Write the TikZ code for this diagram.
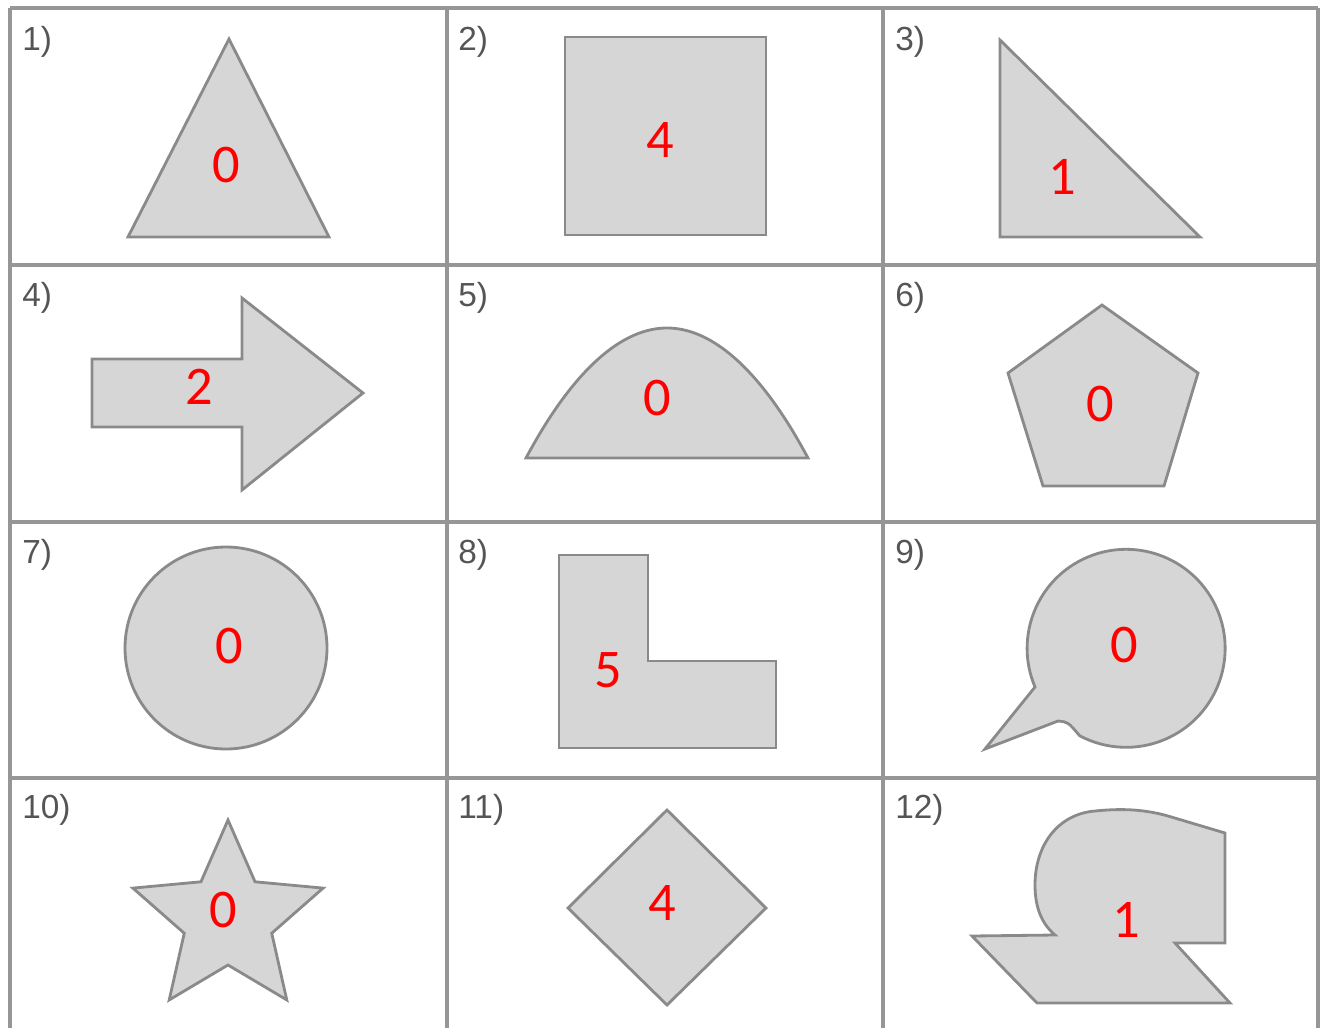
\documentclass[tikz,border=0pt]{standalone}
\usepackage{fontspec}
\setmainfont{Liberation Sans}
\newfontfamily\numfont{Carlito}
\begin{document}
\begin{tikzpicture}[x=0.02cm, y=-0.02cm,
    gridline/.style={draw={rgb,255:red,150;green,150;blue,150}, line width=1.8pt},
    shapefill/.style={draw={rgb,255:red,138;green,138;blue,138}, fill={rgb,255:red,214;green,214;blue,214}, line width=1.6pt, line join=miter},
    cellnum/.style={anchor=west, inner sep=0, text={rgb,255:red,85;green,85;blue,85}, font=\fontsize{19}{19}\selectfont},
    count/.style={inner sep=0, text={rgb,255:red,255;green,0;blue,0}, font=\numfont\fontsize{31}{31}\selectfont}]
    \useasboundingbox (0, 0) rectangle (1326, 1028);
    % Grid:
    \foreach \gx in {10, 447, 883, 1318} \draw[gridline] (\gx, 8) -- (\gx, 1028);
    \foreach \gy in {8, 265, 522, 778} \draw[gridline] (10, \gy) -- (1318, \gy);
    % Shapes:
    \draw[shapefill] (229, 39) -- (329, 237) -- (128, 237) -- cycle;
    \draw[shapefill] (565, 37) rectangle (766, 235);
    \draw[shapefill] (1000, 40) -- (1200, 237) -- (1000, 237) -- cycle;
    \draw[shapefill] (92, 359) -- (242, 359) -- (242, 298) -- (363, 393) -- (242, 490) -- (242, 427) -- (92, 427) -- cycle;
    \draw[shapefill] (526, 458) parabola bend (667, 328) (808, 458) -- cycle;
    \draw[shapefill] (1102, 305) -- (1198, 373) -- (1164, 486) -- (1043, 486) -- (1008, 373) -- cycle;
    \draw[shapefill] (226, 648) circle[radius=101];
    \draw[shapefill] (559, 555) -- (648, 555) -- (648, 661) -- (776, 661) -- (776, 748) -- (559, 748) -- cycle;
    \draw[shapefill] (1035, 687) arc[start angle=157, end angle=478, radius=99] .. controls (1068, 722) .. (1058, 721) -- (985, 749) -- cycle;
    \draw[shapefill] (228, 820) \foreach \k in {1,...,9} {
        -- ({228 + (46 + 54*mod(\k+1,2))*sin(36*\k)}, {919 - (46 + 54*mod(\k+1,2))*cos(36*\k)})} -- cycle;
    \draw[shapefill] (667, 810) -- (766, 908) -- (667, 1005) -- (568, 908) -- cycle;
    \draw[shapefill] (1225, 833) -- (1168, 816) .. controls (1140, 808) and (1115, 809) .. (1095, 811) .. controls (1058, 814) and (1035, 845) .. (1035, 885)
        .. controls (1035, 908) and (1042, 924) .. (1055, 935) -- (972, 936) -- (1037, 1003) -- (1230, 1003) -- (1175, 943) -- (1225, 943) -- cycle;
    % Cell numbers:
    \node[cellnum](Cell1) at (22, 42){1)};
    \node[cellnum](Cell2) at (458, 42){2)};
    \node[cellnum](Cell3) at (895, 42){3)};
    \node[cellnum](Cell4) at (22, 298){4)};
    \node[cellnum](Cell5) at (458, 298){5)};
    \node[cellnum](Cell6) at (895, 298){6)};
    \node[cellnum](Cell7) at (22, 555){7)};
    \node[cellnum](Cell8) at (458, 555){8)};
    \node[cellnum](Cell9) at (895, 555){9)};
    \node[cellnum](Cell10) at (22, 810){10)};
    \node[cellnum](Cell11) at (458, 810){11)};
    \node[cellnum](Cell12) at (895, 810){12)};
    % Counts:
    \node[count](Count1) at (226, 165){0};
    \node[count](Count2) at (660, 140){4};
    \node[count](Count3) at (1062, 177){1};
    \node[count](Count4) at (199, 387){2};
    \node[count](Count5) at (657, 398){0};
    \node[count](Count6) at (1100, 404){0};
    \node[count](Count7) at (229, 646){0};
    \node[count](Count8) at (608, 670){5};
    \node[count](Count9) at (1124, 645){0};
    \node[count](Count10) at (223, 910){0};
    \node[count](Count11) at (662, 903){4};
    \node[count](Count12) at (1126, 920){1};
\end{tikzpicture}
\end{document}
